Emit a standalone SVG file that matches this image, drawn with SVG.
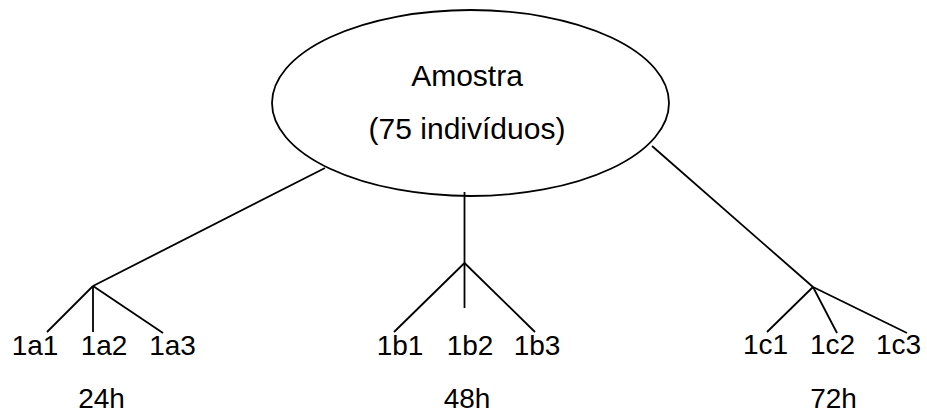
<svg xmlns="http://www.w3.org/2000/svg" width="927" height="414" viewBox="0 0 927 414">
  <style>
    .ln { stroke: #000; stroke-width: 1.8; fill: none; stroke-linecap: butt; }
    .t { font-family: "Liberation Sans", Arial, sans-serif; fill: #000; text-anchor: middle; }
    .big { font-size: 30px; }
    .lbl { font-size: 28px; }
  </style>
  <rect width="927" height="414" fill="#fff"/>

  <!-- connectors -->
  <g id="connectors">
    <!-- 24h branch -->
    <line class="ln" x1="325" y1="168" x2="93" y2="286"/>
    <line class="ln" x1="93" y1="286" x2="47" y2="332"/>
    <line class="ln" x1="93" y1="286" x2="93" y2="332"/>
    <line class="ln" x1="93" y1="286" x2="163" y2="333"/>
    <!-- 48h branch -->
    <line class="ln" x1="464.5" y1="192" x2="464.5" y2="308"/>
    <line class="ln" x1="464.5" y1="263" x2="394" y2="332"/>
    <line class="ln" x1="464.5" y1="263" x2="535" y2="332"/>
    <!-- 72h branch -->
    <line class="ln" x1="652" y1="146" x2="813" y2="287"/>
    <line class="ln" x1="813" y1="287" x2="767" y2="332"/>
    <line class="ln" x1="813" y1="287" x2="837" y2="333"/>
    <line class="ln" x1="813" y1="287" x2="907" y2="333"/>
  </g>

  <!-- root -->
  <g id="amostra">
    <ellipse class="ln" cx="470.5" cy="103" rx="198.5" ry="93"/>
    <text class="t big" x="467" y="86">Amostra</text>
    <text class="t big" x="467" y="139">(75 indivíduos)</text>
  </g>

  <!-- 24h group -->
  <g id="n1a1"><text class="t lbl" x="35" y="355">1a1</text></g>
  <g id="n1a2"><text class="t lbl" x="104" y="355">1a2</text></g>
  <g id="n1a3"><text class="t lbl" x="172.5" y="355">1a3</text></g>
  <g id="g24h"><text class="t lbl" x="101.5" y="408">24h</text></g>

  <!-- 48h group -->
  <g id="n1b1"><text class="t lbl" x="400" y="355">1b1</text></g>
  <g id="n1b2"><text class="t lbl" x="470" y="355">1b2</text></g>
  <g id="n1b3"><text class="t lbl" x="537" y="355">1b3</text></g>
  <g id="g48h"><text class="t lbl" x="467" y="408">48h</text></g>

  <!-- 72h group -->
  <g id="n1c1"><text class="t lbl" x="765.5" y="354">1c1</text></g>
  <g id="n1c2"><text class="t lbl" x="832.5" y="354">1c2</text></g>
  <g id="n1c3"><text class="t lbl" x="898.5" y="354">1c3</text></g>
  <g id="g72h"><text class="t lbl" x="833.5" y="408">72h</text></g>
</svg>
